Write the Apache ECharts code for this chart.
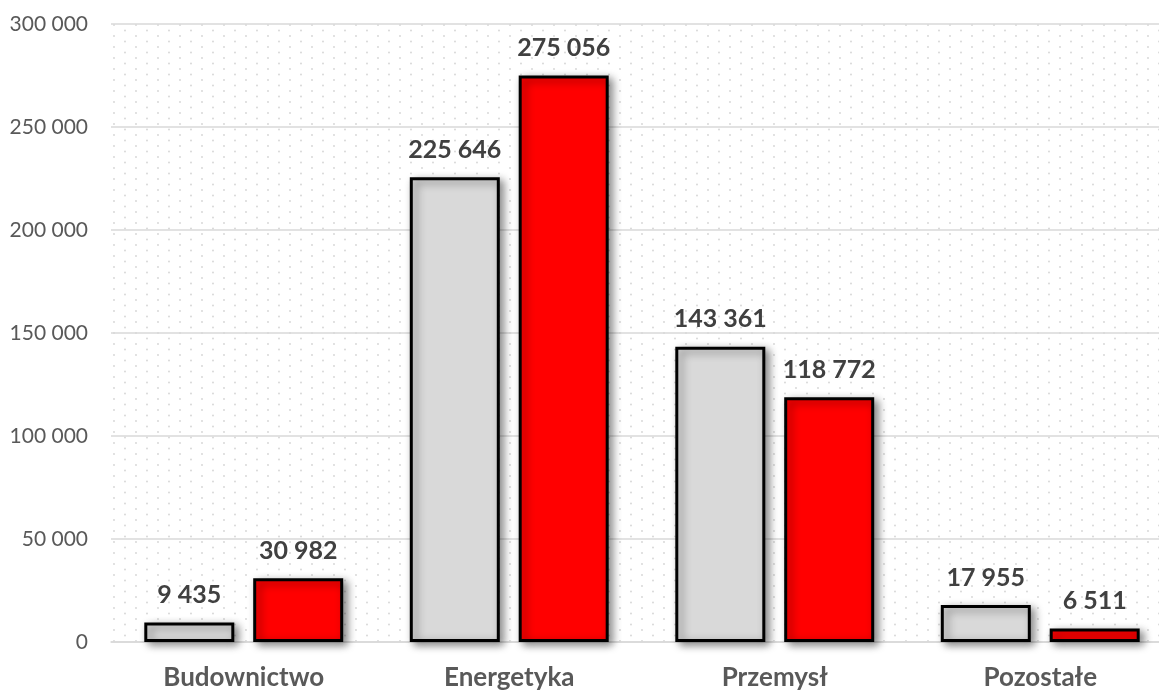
<!DOCTYPE html>
<html>
<head>
<meta charset="utf-8">
<script src="https://cdn.jsdelivr.net/npm/echarts@6/dist/echarts.min.js"></script>
<style>html,body{margin:0;padding:0;background:#fff;overflow:hidden}#c{width:1159px;height:690px}</style>
</head>
<body>
<div id="c"></div>
<script>
var categories = ['Budownictwo', 'Energetyka', 'Przemysł', 'Pozostałe'];
var series1 = [9435, 225646, 143361, 17955];
var series2 = [30982, 275056, 118772, 6511];
var yTicks = [0, 50000, 100000, 150000, 200000, 250000, 300000];

function fmt(v) {
  return String(v).replace(/\B(?=(\d{3})+(?!\d))/g, ' ');
}

var tile = document.createElement('canvas');
tile.width = 22; tile.height = 11;
var ctx = tile.getContext('2d');
ctx.fillStyle = '#ffffff';
ctx.fillRect(0, 0, 22, 11);
ctx.fillStyle = '#d4d4d4';
ctx.beginPath(); ctx.arc(4, 3, 0.9, 0, Math.PI * 2); ctx.fill();
ctx.beginPath(); ctx.arc(15, 8.5, 0.9, 0, Math.PI * 2); ctx.fill();

var chart = echarts.init(document.getElementById('c'));
var common = {
  type: 'bar',
  barWidth: 90,
  barGap: '21%',
  label: {
    show: true,
    position: 'top',
    distance: 15,
    fontFamily: 'Lato',
    fontWeight: 'bold',
    fontSize: 25,
    color: '#404040',
    formatter: function (p) { return fmt(p.value); }
  }
};
function itemStyle(c) {
  return {
    color: c,
    borderColor: '#000000',
    borderWidth: 3,
    shadowColor: 'rgba(0,0,0,0.45)',
    shadowBlur: 8,
    shadowOffsetX: 4,
    shadowOffsetY: 3
  };
}
chart.setOption({
  animation: false,
  grid: {
    left: 111, right: -14, top: 24, bottom: 48,
    containLabel: false,
    outerBoundsMode: 'none',
    show: true,
    borderWidth: 0,
    backgroundColor: { image: tile, repeat: 'repeat' }
  },
  xAxis: {
    type: 'category',
    data: categories,
    axisTick: { show: false },
    axisLine: { lineStyle: { color: '#d9d9d9', width: 1.5 } },
    axisLabel: {
      margin: 23,
      fontFamily: 'Lato',
      fontWeight: 'bold',
      fontSize: 26,
      lineHeight: 26,
      color: '#595959'
    }
  },
  yAxis: {
    type: 'value',
    min: yTicks[0],
    max: yTicks[yTicks.length - 1],
    interval: 50000,
    axisLine: { show: false },
    axisTick: { show: false },
    splitLine: { lineStyle: { color: '#d9d9d9', width: 1.5 } },
    axisLabel: {
      margin: 23,
      fontFamily: 'Lato',
      fontSize: 21,
      color: '#595959',
      formatter: function (v) { return fmt(v); }
    }
  },
  series: [
    Object.assign({}, common, { name: 'Seria 1', data: series1, itemStyle: itemStyle('#d9d9d9') }),
    Object.assign({}, common, { name: 'Seria 2', data: series2, itemStyle: itemStyle('#ff0000') })
  ]
});
</script>
</body>
</html>
